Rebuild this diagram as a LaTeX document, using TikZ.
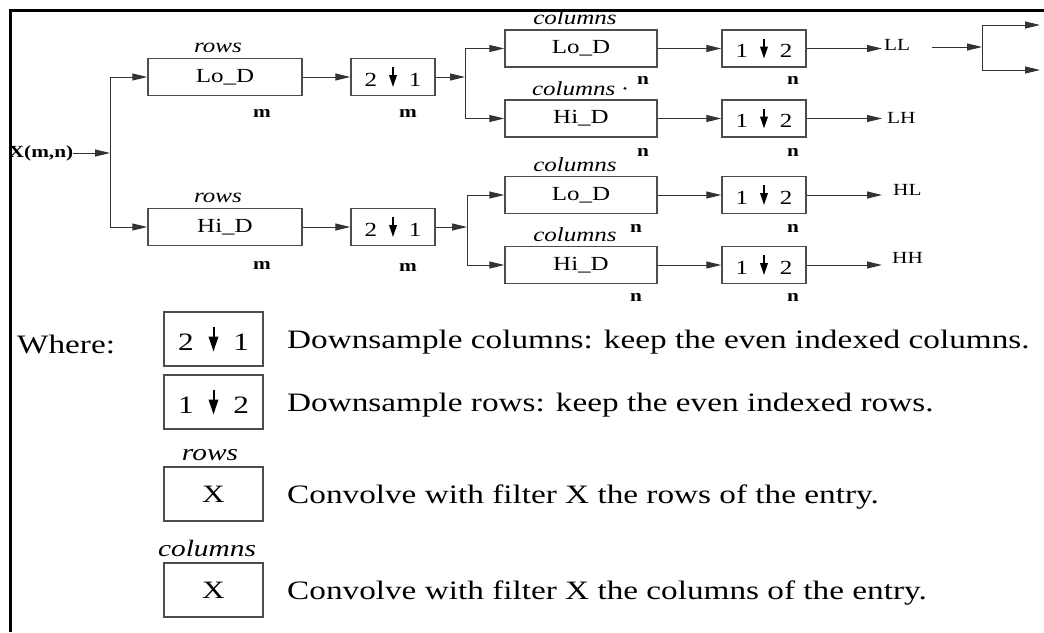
\documentclass[tikz,border=0pt]{standalone}
\usepackage{fontspec}
\setmainfont{Liberation Serif}[FakeStretch=1.25]
\usetikzlibrary{arrows.meta}
\newcommand{\dnarr}{\tikz[baseline=0pt]\draw[line width=0.08em,-{Triangle[length=0.6em,width=0.38em]}] (0pt,0.95em) -- (0pt,-0.05em);}
\newcommand{\dsa}{2\hspace{0.6em}\dnarr\hspace{0.6em}1}
\newcommand{\dsb}{1\hspace{0.6em}\dnarr\hspace{0.6em}2}
\begin{document}
\begin{tikzpicture}[x=1pt,y=-1pt,
  fbox/.style={draw=black!70, line width=1.4pt, inner sep=0pt, font=\fontsize{20}{24}\selectfont},
  rowbox/.style={fbox, minimum width=154pt, minimum height=37pt},
  colbox/.style={fbox, minimum width=152pt, minimum height=37pt},
  dsbox/.style={fbox, minimum width=84pt, minimum height=37pt},
  lbox/.style={fbox, minimum width=99pt, minimum height=54pt, font=\fontsize{25}{30}\selectfont},
  lab/.style={font=\fontsize{20}{24}\selectfont\itshape, inner sep=0pt},
  llab/.style={font=\fontsize{23.5}{28}\selectfont\itshape, inner sep=0pt},
  dimlab/.style={font=\fontsize{17}{20}\selectfont\bfseries, inner sep=0pt},
  outlab/.style={font=\fontsize{17}{20}\selectfont, inner sep=0pt, anchor=west},
  desc/.style={font=\fontsize{26.6}{32}\selectfont, inner sep=0pt, anchor=base west},
  con/.style={line width=1pt, draw=black!80},
  arr/.style={con, -{Triangle[length=15pt,width=7pt]}}]
\useasboundingbox (0,0) rectangle (1044,632);
% frame
\draw[line width=3pt] (10,632) -- (10,10) -- (1044,10);

% input
\node[dimlab] (X) at (41,153) {X(m,n)};
\coordinate (s1) at (110,153);

% row filters
\node[rowbox] (r1) at (225,77) {Lo\_D};
\node[rowbox] (r2) at (225,227) {Hi\_D};
\node[lab] (rl1) at (218,48) {rows};
\node[lab] (rl2) at (218,198) {rows};
\node[dimlab] (m1) at (262,113) {m};
\node[dimlab] (m2) at (262,265) {m};

% 2 down 1
\node[dsbox] (d1) at (393,77) {\dsa};
\node[dsbox] (d2) at (393,227) {\dsa};
\node[dimlab] (m3) at (408,113) {m};
\node[dimlab] (m4) at (408,267) {m};
\coordinate (b1) at (465,77);
\coordinate (b2) at (467,227);

% column filters
\node[colbox] (c1) at (581,48.5) {Lo\_D};
\node[colbox] (c2) at (581,118.5) {Hi\_D};
\node[colbox] (c3) at (581,195) {Lo\_D};
\node[colbox] (c4) at (581,265) {Hi\_D};
\node[lab] (cl1) at (575,18) {columns};
\node[lab] (cl2) at (580,89) {columns ·};
\node[lab] (cl3) at (575,165) {columns};
\node[lab] (cl4) at (575,235) {columns};
\node[dimlab] (n1) at (643,80) {n};
\node[dimlab] (n2) at (643,152) {n};
\node[dimlab] (n3) at (636,228) {n};
\node[dimlab] (n4) at (636,297) {n};

% 1 down 2
\node[dsbox] (e1) at (764,48.5) {\dsb};
\node[dsbox] (e2) at (764,118.5) {\dsb};
\node[dsbox] (e3) at (764,195) {\dsb};
\node[dsbox] (e4) at (764,265) {\dsb};
\node[dimlab] (n5) at (793,80) {n};
\node[dimlab] (n6) at (793,152) {n};
\node[dimlab] (n7) at (793,228) {n};
\node[dimlab] (n8) at (793,297) {n};

% outputs
\coordinate (o1) at (882,48.5);
\coordinate (o2) at (882,118.5);
\coordinate (o3) at (882,195);
\coordinate (o4) at (882,265);
\node[outlab] (LL) at (884,45) {LL};
\node[outlab] (LH) at (887,118) {LH};
\node[outlab] (HL) at (893,190) {HL};
\node[outlab] (HH) at (892,258) {HH};

% extra fork
\coordinate (f0) at (932,47);
\coordinate (f1) at (982,47);
\coordinate (f2) at (1040,25);
\coordinate (f3) at (1040,70);

% connectors
\draw[arr] (X.east) -- (s1);
\draw[con] (s1 |- r1) -- (s1 |- r2);
\draw[arr] (s1 |- r1) -- (r1.west);
\draw[arr] (s1 |- r2) -- (r2.west);
\draw[arr] (r1.east) -- (d1.west);
\draw[arr] (r2.east) -- (d2.west);
\draw[arr] (d1.east) -- (b1);
\draw[arr] (d2.east) -- (b2);
\draw[con] (b1 |- c1) -- (b1 |- c2);
\draw[con] (b2 |- c3) -- (b2 |- c4);
\draw[arr] (b1 |- c1) -- (c1.west);
\draw[arr] (b1 |- c2) -- (c2.west);
\draw[arr] (b2 |- c3) -- (c3.west);
\draw[arr] (b2 |- c4) -- (c4.west);
\draw[arr] (c1.east) -- (e1.west);
\draw[arr] (c2.east) -- (e2.west);
\draw[arr] (c3.east) -- (e3.west);
\draw[arr] (c4.east) -- (e4.west);
\draw[arr] (e1.east) -- (o1);
\draw[arr] (e2.east) -- (o2);
\draw[arr] (e3.east) -- (o3);
\draw[arr] (e4.east) -- (o4);
\draw[arr] (f0) -- (f1);
\draw[con] (f1 |- f2) -- (f1 |- f3);
\draw[arr] (f1 |- f2) -- (f2);
\draw[arr] (f1 |- f3) -- (f3);

% legend
\node[desc] (where) at (17,353) {Where:};
\node[lbox] (L1) at (213.5,339) {\dsa};
\node[lbox] (L2) at (213.5,402) {\dsb};
\node[llab] (L3l) at (210,455) {rows};
\node[lbox] (L3) at (213.5,494) {X};
\node[llab] (L4l) at (207,548) {columns};
\node[lbox] (L4) at (213.5,590) {X};
\node[desc] (t1) at (287,348) {Downsample columns: keep the even indexed columns.};
\node[desc] (t2) at (287,411) {Downsample rows: keep the even indexed rows.};
\node[desc] (t3) at (287,503) {Convolve with filter X the rows of the entry.};
\node[desc] (t4) at (287,599) {Convolve with filter X the columns of the entry.};
\end{tikzpicture}
\end{document}
